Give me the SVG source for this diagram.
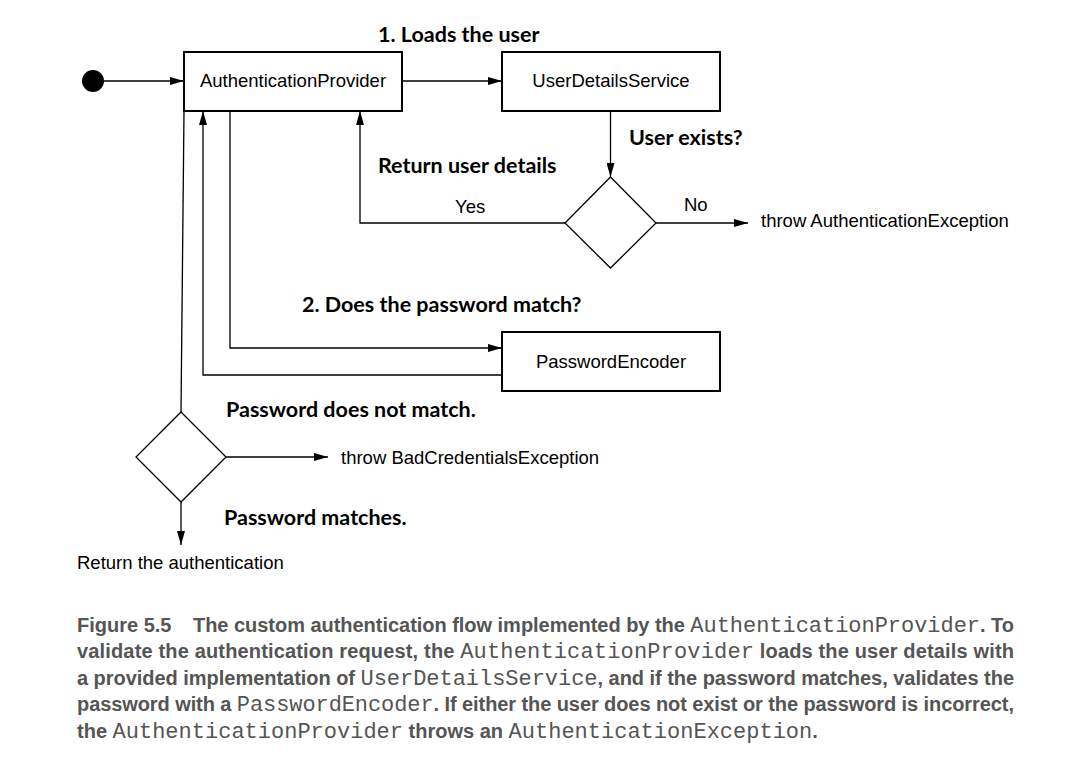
<svg xmlns="http://www.w3.org/2000/svg" width="1088" height="759" viewBox="0 0 1088 759">
<defs>
<marker id="ah" markerWidth="14" markerHeight="8" refX="14" refY="4" orient="auto" markerUnits="userSpaceOnUse">
<path d="M0,0 L14,4 L0,8 z" fill="#000"/>
</marker>
<style>
.box{fill:#fff;stroke:#000;stroke-width:2}
.dia{fill:#fff;stroke:#000;stroke-width:1.3}
.ln{fill:none;stroke:#000;stroke-width:1.3}
.t{font-family:"Liberation Sans",Arial,sans-serif;font-size:18.5px;fill:#000}
.b{font-family:Lato,"Liberation Sans",sans-serif;font-weight:bold;font-size:21.5px;fill:#000}
.cap{font-family:"Liberation Sans",Arial,sans-serif;font-weight:bold;font-size:20px;fill:#555}
.m{font-family:"Liberation Mono","Courier New",monospace;font-weight:normal;font-size:22px}
</style>
</defs>
<rect width="1088" height="759" fill="#fff"/>
<g id="start"><circle cx="93" cy="81" r="11" fill="#000"/></g>
<g id="authProvider"><rect class="box" x="184" y="52" width="218" height="59"/><text class="t" x="293" y="87" text-anchor="middle">AuthenticationProvider</text></g>
<g id="userDetailsService"><rect class="box" x="502" y="52" width="218" height="59"/><text class="t" x="611" y="87" text-anchor="middle">UserDetailsService</text></g>
<g id="passwordEncoder"><rect class="box" x="502" y="332" width="218" height="59"/><text class="t" x="611" y="368" text-anchor="middle">PasswordEncoder</text></g>
<g id="userExists"><path class="dia" d="M610.5,177 L656,223 L610.5,268 L565,223 z"/></g>
<g id="passwordMatch"><path class="dia" d="M181,412 L226,457 L181,502 L136,457 z"/></g>
<g id="connectors">
<path class="ln" d="M104,81 L184,81" marker-end="url(#ah)"/>
<path class="ln" d="M402,81 L502,81" marker-end="url(#ah)"/>
<path class="ln" d="M610.5,111 L610.5,177" marker-end="url(#ah)"/>
<path class="ln" d="M565,223 L360,223 L360,111" marker-end="url(#ah)"/>
<path class="ln" d="M656,223 L748,223" marker-end="url(#ah)"/>
<path class="ln" d="M230,111 L230,348 L502,348" marker-end="url(#ah)"/>
<path class="ln" d="M502,375 L203,375 L203,111" marker-end="url(#ah)"/>
<path class="ln" d="M184,111 L181,412"/>
<path class="ln" d="M226,457 L328,457" marker-end="url(#ah)"/>
<path class="ln" d="M181,502 L181,545" marker-end="url(#ah)"/>
</g>
<g id="labels">
<text class="b" x="378" y="42">1. Loads the user</text>
<text class="b" x="629" y="145">User exists?</text>
<text class="b" x="378" y="173">Return user details</text>
<text class="t" x="455" y="213">Yes</text>
<text class="t" x="684" y="211">No</text>
<text class="t" x="761" y="227">throw AuthenticationException</text>
<text class="b" x="302" y="312">2. Does the password match?</text>
<text class="b" x="226" y="417">Password does not match.</text>
<text class="t" x="341" y="464">throw BadCredentialsException</text>
<text class="b" x="224" y="525">Password matches.</text>
<text class="t" x="77" y="569">Return the authentication</text>
</g>
<g id="caption">
<text class="cap" x="77" y="632">Figure 5.5</text>
<text class="cap" x="193" y="632" textLength="821" lengthAdjust="spacing">The custom authentication flow implemented by the <tspan class="m">AuthenticationProvider</tspan>. To</text>
<text class="cap" x="77" y="658" textLength="937" lengthAdjust="spacing">validate the authentication request, the <tspan class="m">AuthenticationProvider</tspan> loads the user details with</text>
<text class="cap" x="77" y="685" textLength="937" lengthAdjust="spacing">a provided implementation of <tspan class="m">UserDetailsService</tspan>, and if the password matches, validates the</text>
<text class="cap" x="77" y="711" textLength="937" lengthAdjust="spacing">password with a <tspan class="m">PasswordEncoder</tspan>. If either the user does not exist or the password is incorrect,</text>
<text class="cap" x="77" y="738">the <tspan class="m">AuthenticationProvider</tspan> throws an <tspan class="m">AuthenticationException</tspan>.</text>
</g>
</svg>
